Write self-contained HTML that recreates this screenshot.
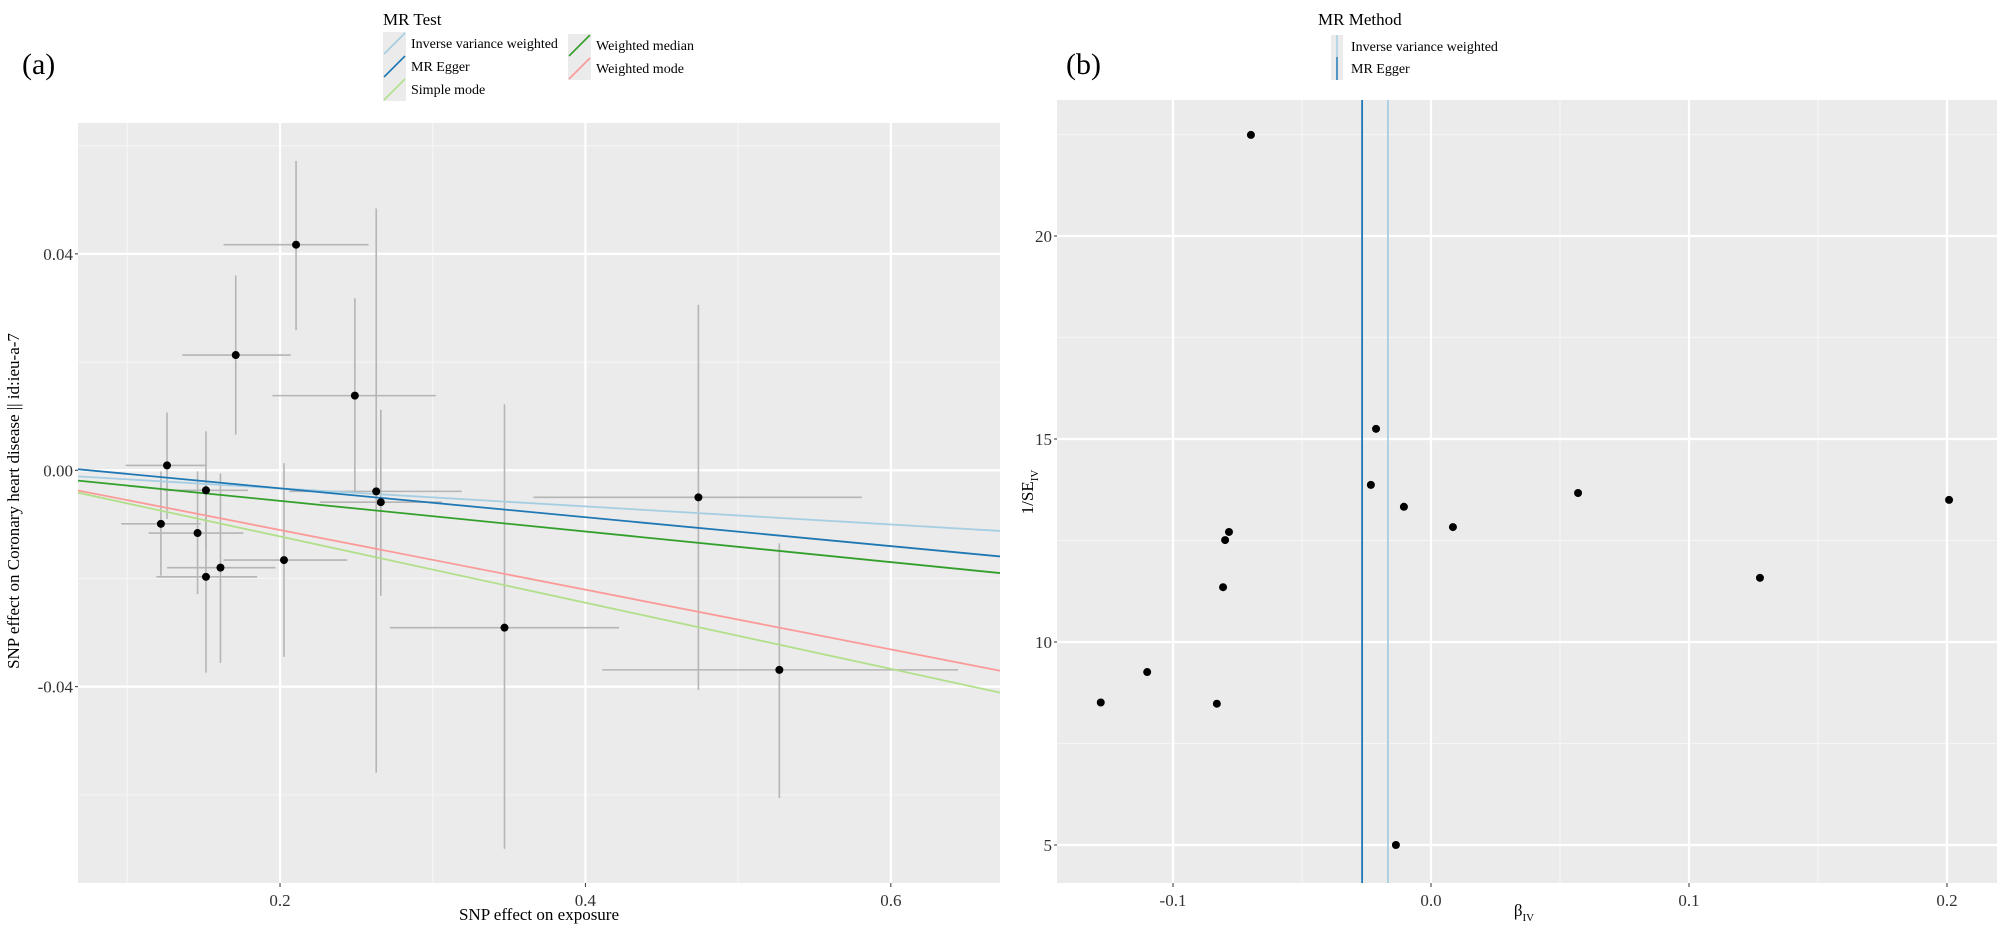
<!DOCTYPE html>
<html><head><meta charset="utf-8"><style>
html,body{margin:0;padding:0;background:#fff}
svg{display:block;font-family:"Liberation Serif",serif}
</style></head><body>
<svg id="chart" width="2000" height="925" viewBox="0 0 2000 925" xmlns="http://www.w3.org/2000/svg">
<text x="22" y="74" font-size="30">(a)</text>
<text x="1066" y="74" font-size="30">(b)</text>
<g>
<text x="383" y="25" font-size="17">MR Test</text>
</g>
<g>
<text x="1318" y="25" font-size="17">MR Method</text>
</g>
<g id="pa"></g>
<g id="pb"></g>
<text x="539" y="920" font-size="17" text-anchor="middle">SNP effect on exposure</text>
<text transform="translate(19,501) rotate(-90)" font-size="17" text-anchor="middle">SNP effect on Coronary heart disease || id:ieu-a-7</text>
<text x="1524" y="916" font-size="17" text-anchor="middle">β<tspan font-size="11" dy="5">IV</tspan></text>
<text transform="translate(1033,492) rotate(-90)" font-size="17" text-anchor="middle">1/SE<tspan font-size="11" dy="5">IV</tspan></text>
</svg>
<script>
// Panel A data
const snpX = [0.2105,0.171,0.249,0.126,0.1515,0.263,0.266,0.122,0.146,0.1515,0.161,0.2026,0.347,0.474,0.527];
const snpY = [0.0417,0.0213,0.0138,0.0009,-0.0037,-0.0039,-0.0059,-0.0099,-0.0116,-0.0197,-0.018,-0.0166,-0.0291,-0.005,-0.0369];
const xLo = [0.163,0.136,0.195,0.099,0.124,0.206,0.226,0.096,0.114,0.119,0.126,0.163,0.272,0.366,0.411];
const xHi = [0.258,0.207,0.302,0.152,0.179,0.319,0.306,0.148,0.176,0.185,0.197,0.244,0.422,0.581,0.644];
const yLo = [0.0259,0.0066,-0.004,-0.009,-0.0148,-0.0559,-0.0232,-0.0195,-0.0229,-0.0374,-0.0356,-0.0345,-0.070,-0.0406,-0.0606];
const yHi = [0.0572,0.036,0.0318,0.0107,0.0072,0.0484,0.0112,-0.0002,-0.0002,0.0,-0.0006,0.0013,0.0122,0.0306,-0.0135];
const methodNames = ["Inverse variance weighted","MR Egger","Simple mode","Weighted median","Weighted mode"];
const methodSlopes = [-0.0167,-0.0267,-0.0612,-0.0283,-0.0552];
const methodIntercepts = [0,0.002,0,0,0];
const methodColors = ["#a6cee3","#1f78b4","#b2df8a","#33a02c","#fb9a99"];
const xTicksA = [0.2,0.4,0.6];
const xMinorA = [0.1,0.3,0.5];
const yTicksA = [-0.04,0.0,0.04];
const yTickLabelsA = ["-0.04","0.00","0.04"];
const yMinorA = [-0.06,-0.02,0.02,0.06];
// Panel B data
const betaIV = [-0.0698,-0.0213,-0.0233,-0.0105,0.0085,-0.0783,-0.0798,-0.0806,0.057,0.1275,0.2008,-0.128,-0.110,-0.083,-0.0136];
const invSE = [22.49,15.25,13.87,13.33,12.83,12.71,12.51,11.35,13.67,11.58,13.50,8.51,9.26,8.48,5.0];
const bMethods = ["Inverse variance weighted","MR Egger"];
const bEstimates = [-0.0167,-0.0267];
const bColors = ["#a6cee3","#1f78b4"];
const xTicksB = [-0.1,0.0,0.1,0.2];
const xTickLabelsB = ["-0.1","0.0","0.1","0.2"];
const xMinorB = [-0.05,0.05,0.15];
const yTicksB = [5,10,15,20];
const yMinorB = [7.5,12.5,17.5,22.5];

const NS="http://www.w3.org/2000/svg";
function mk(parent,tag,attrs){const e=document.createElementNS(NS,tag);for(const k in attrs)e.setAttribute(k,attrs[k]);parent.appendChild(e);return e;}

// Panel A geometry
const A={l:78,r:1000,t:123,b:883,x0:0.0677,x1:0.6715,y0:-0.0763,y1:0.0642};
const ax=v=>A.l+(v-A.x0)/(A.x1-A.x0)*(A.r-A.l);
const ay=v=>A.b-(v-A.y0)/(A.y1-A.y0)*(A.b-A.t);
const pa=document.getElementById('pa');
let bg=mk(pa,'rect',{x:A.l,y:A.t,width:A.r-A.l,height:A.b-A.t,fill:'#ebebeb'});


xMinorA.forEach(v=>{let l=mk(pa,'line',{x1:ax(v),x2:ax(v),y1:A.t,y2:A.b,stroke:'#f5f5f5','stroke-width':1.2});

});
yMinorA.forEach(v=>{let l=mk(pa,'line',{x1:A.l,x2:A.r,y1:ay(v),y2:ay(v),stroke:'#f5f5f5','stroke-width':1.2});

});
xTicksA.forEach(v=>{let l=mk(pa,'line',{x1:ax(v),x2:ax(v),y1:A.t,y2:A.b,stroke:'#fff','stroke-width':2.2});


let t=mk(pa,'text',{x:ax(v),y:A.b+23,'font-size':17,'text-anchor':'middle',fill:'#333'});t.textContent=String(v);


mk(pa,'line',{x1:ax(v),x2:ax(v),y1:A.b,y2:A.b+4,stroke:'#333'});});
yTicksA.forEach((v,i)=>{let l=mk(pa,'line',{x1:A.l,x2:A.r,y1:ay(v),y2:ay(v),stroke:'#fff','stroke-width':2.2});


let t=mk(pa,'text',{x:A.l-5,y:ay(v)+6,'font-size':17,'text-anchor':'end',fill:'#333'});t.textContent=yTickLabelsA[i];


mk(pa,'line',{x1:A.l-3,x2:A.l,y1:ay(v),y2:ay(v),stroke:'#333'});});
snpX.forEach((v,i)=>{
let h=mk(pa,'line',{x1:ax(xLo[i]),x2:ax(xHi[i]),y1:ay(snpY[i]),y2:ay(snpY[i]),stroke:'#b5b5b5','stroke-width':1.6});


let w=mk(pa,'line',{x1:ax(v),x2:ax(v),y1:ay(yLo[i]),y2:ay(yHi[i]),stroke:'#b5b5b5','stroke-width':1.6});

});
methodSlopes.forEach((s,i)=>{let l=mk(pa,'line',{x1:A.l,y1:ay(methodIntercepts[i]+s*A.x0),x2:A.r,y2:ay(methodIntercepts[i]+s*A.x1),stroke:methodColors[i],'stroke-width':1.8});

});
snpX.forEach((v,i)=>{let c=mk(pa,'circle',{cx:ax(v),cy:ay(snpY[i]),r:4,fill:'#000'});

});
// legend A
const legPos=[[383,43],[383,66],[383,89],[568,45],[568,68]];
methodNames.forEach((n,i)=>{const [x,y]=legPos[i];
let g=mk(pa,'g',{});


mk(g,'rect',{x:x,y:y-11,width:23,height:23,fill:'#ebebeb'});
mk(g,'line',{x1:x+1,y1:y+11,x2:x+22,y2:y-10,stroke:methodColors[i],'stroke-width':1.6});
let t=mk(g,'text',{x:x+28,y:y+5,'font-size':14});t.textContent=n;});

// Panel B geometry
const B={l:1057,r:1997,t:100,b:883};
const bx=v=>1431+v*2580;
const by=v=>236+(20-v)*40.6;
const pb=document.getElementById('pb');
let bg2=mk(pb,'rect',{x:B.l,y:B.t,width:B.r-B.l,height:B.b-B.t,fill:'#ebebeb'});


xMinorB.forEach(v=>{if(bx(v)<B.l||bx(v)>B.r)return;let l=mk(pb,'line',{x1:bx(v),x2:bx(v),y1:B.t,y2:B.b,stroke:'#f5f5f5','stroke-width':1.2});

});
yMinorB.forEach(v=>{let l=mk(pb,'line',{x1:B.l,x2:B.r,y1:by(v),y2:by(v),stroke:'#f5f5f5','stroke-width':1.2});

});
xTicksB.forEach((v,i)=>{let l=mk(pb,'line',{x1:bx(v),x2:bx(v),y1:B.t,y2:B.b,stroke:'#fff','stroke-width':2.2});


let t=mk(pb,'text',{x:bx(v),y:B.b+23,'font-size':17,'text-anchor':'middle',fill:'#333'});t.textContent=xTickLabelsB[i];


mk(pb,'line',{x1:bx(v),x2:bx(v),y1:B.b,y2:B.b+4,stroke:'#333'});});
yTicksB.forEach(v=>{let l=mk(pb,'line',{x1:B.l,x2:B.r,y1:by(v),y2:by(v),stroke:'#fff','stroke-width':2.2});


let t=mk(pb,'text',{x:B.l-5,y:by(v)+6,'font-size':17,'text-anchor':'end',fill:'#333'});t.textContent=String(v);


mk(pb,'line',{x1:B.l-3,x2:B.l,y1:by(v),y2:by(v),stroke:'#333'});});
bEstimates.forEach((v,i)=>{let l=mk(pb,'line',{x1:bx(v),x2:bx(v),y1:B.t,y2:B.b,stroke:bColors[i],'stroke-width':1.8});

});
betaIV.forEach((v,i)=>{let c=mk(pb,'circle',{cx:bx(v),cy:by(invSE[i]),r:4,fill:'#000'});

});
const legB=[[1331,46],[1331,68]];
bMethods.forEach((n,i)=>{const [x,y]=legB[i];
let g=mk(pb,'g',{});


mk(g,'rect',{x:x,y:y-11,width:12,height:23,fill:'#ebebeb'});
mk(g,'line',{x1:x+6,y1:y-11,x2:x+6,y2:y+12,stroke:bColors[i],'stroke-width':1.5});
let t=mk(g,'text',{x:x+20,y:y+5,'font-size':14});t.textContent=n;});
</script>
</body></html>
